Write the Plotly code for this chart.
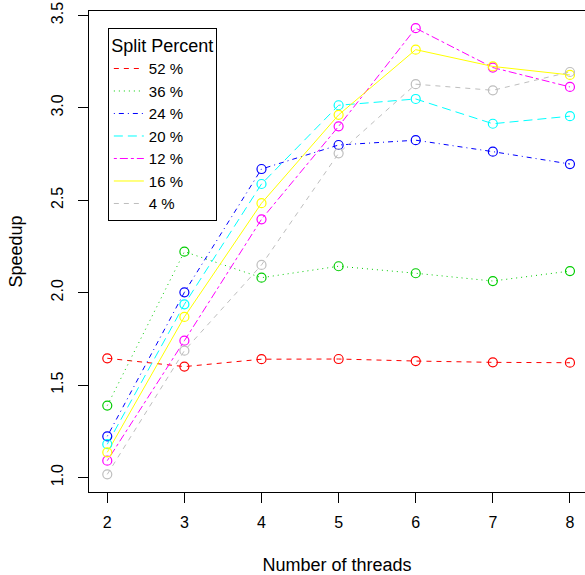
import plotly.graph_objects as go

threads = [2, 3, 4, 5, 6, 7, 8]
labels = ["52 %", "36 %", "24 %", "20 %", "12 %", "16 %", "4 %"]
s52 = [1.645, 1.600, 1.640, 1.641, 1.630, 1.623, 1.621]
s36 = [1.389, 2.222, 2.081, 2.143, 2.105, 2.063, 2.117]
s24 = [1.223, 2.002, 2.669, 2.799, 2.825, 2.763, 2.696]
s20 = [1.180, 1.937, 2.588, 3.014, 3.048, 2.914, 2.955]
s12 = [1.091, 1.740, 2.397, 2.900, 3.431, 3.218, 3.113]
s16 = [1.136, 1.869, 2.484, 2.962, 3.315, 3.224, 3.178]
s4 = [1.017, 1.686, 2.150, 2.754, 3.128, 3.095, 3.194]
series = [s52, s36, s24, s20, s12, s16, s4]
colors = ["#FF0000", "#00CD00", "#0000FF", "#00FFFF", "#FF00FF", "#FFFF00", "#BEBEBE"]
dashes = ["5px,5px", "1px,4px", "1px,4px,5px,4px", "9px,5px",
          "3px,3px,8px,3px", "solid", "5px,5px"]

FONT = "Liberation Sans, Arial, sans-serif"
fig = go.Figure()
for name, ys, c, d in zip(labels, series, colors, dashes):
    fig.add_trace(go.Scatter(x=threads, y=ys, mode="lines", name=name,
                             line=dict(color=c, width=1, dash=d)))
for name, ys, c in zip(labels, series, colors):
    fig.add_trace(go.Scatter(x=threads, y=ys, mode="markers", showlegend=False,
                             marker=dict(symbol="circle-open", size=9,
                                         color=c, line=dict(color=c, width=1.2))))

fig.update_layout(
    width=585, height=575,
    margin=dict(l=89, r=0, t=11, b=83),
    plot_bgcolor="white", paper_bgcolor="white",
    font=dict(family=FONT, size=15, color="black"),
    legend=dict(
        x=0.038, y=0.965, xanchor="left", yanchor="top",
        bordercolor="black", borderwidth=1, bgcolor="white",
        title=dict(text="Split Percent", side="top center"),
        font=dict(size=15),
        tracegroupgap=0,
    ),
    xaxis=dict(
        range=[1.763, 8.195], tickvals=threads, ticktext=[str(t) for t in threads],
        tickfont=dict(size=16),
        showline=True, linecolor="black", linewidth=1, mirror=True,
        ticks="outside", ticklen=10, tickcolor="black",
        ticklabelstandoff=6,
        showgrid=False, zeroline=False,
        title=dict(text="Number of threads", standoff=29),
    ),
    yaxis=dict(
        range=[0.9215, 3.524], tickvals=[1.0, 1.5, 2.0, 2.5, 3.0, 3.5],
        ticktext=["1.0", "1.5", "2.0", "2.5", "3.0", "3.5"],
        tickfont=dict(size=16),
        tickangle=-90,
        showline=True, linecolor="black", linewidth=1, mirror=False,
        ticks="outside", ticklen=10, tickcolor="black",
        ticklabelstandoff=9,
        showgrid=False, zeroline=False,
        title=dict(text="Speedup", standoff=21),
    ),
)
fig.write_html("out.html")
